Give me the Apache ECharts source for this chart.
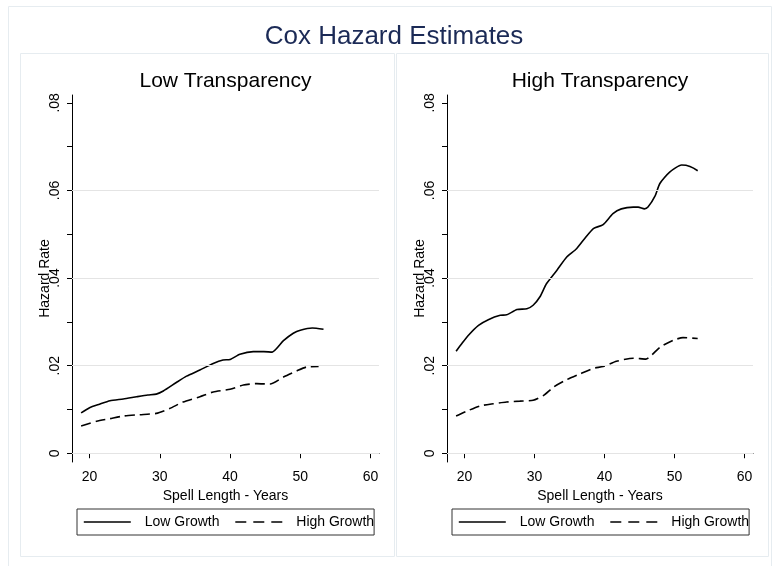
<!DOCTYPE html>
<html>
<head>
<meta charset="utf-8">
<script src="https://cdn.jsdelivr.net/npm/echarts@6/dist/echarts.min.js"></script>
<style>
html, body { margin: 0; padding: 0; background: #fff; }
#chart { width: 776px; height: 566px; }
</style>
</head>
<body>
<div id="chart"></div>
<script>
// data
const mainTitle = 'Cox Hazard Estimates';
const panelTitles = ['Low Transparency', 'High Transparency'];
const seriesNames = ['Low Growth', 'High Growth'];
const xTicks = [20, 30, 40, 50, 60];
const yTicks = [0, 0.01, 0.02, 0.03, 0.04, 0.05, 0.06, 0.07, 0.08];
const yLabels = [0, 0.02, 0.04, 0.06, 0.08];
const gridValues = [0, 0.02, 0.04, 0.06];

// [spell length, hazard rate]
const lowTransLowGrowth = [
  [18.8, 0.0092], [20, 0.0104], [21.4, 0.0112], [22.9, 0.0120], [24.8, 0.0124],
  [26.7, 0.0129], [28.3, 0.0133], [29.5, 0.0135], [30.5, 0.0142], [32.4, 0.0162],
  [33.8, 0.0176], [35.7, 0.0190], [37.6, 0.0205], [39.0, 0.0213], [40, 0.0214],
  [41.4, 0.0226], [43.3, 0.0232], [44.8, 0.0232], [46.0, 0.0231], [47.6, 0.0257],
  [49.0, 0.0274], [50, 0.0281], [51.7, 0.0286], [53.3, 0.0283]
];
const lowTransHighGrowth = [
  [18.8, 0.0062], [21, 0.0073], [22.9, 0.0079], [24.8, 0.0085], [27.1, 0.0088],
  [29.5, 0.0091], [31.4, 0.0102], [33.3, 0.0117], [35.7, 0.0129], [37.6, 0.0140],
  [40, 0.0146], [41.9, 0.0156], [43.8, 0.0159], [45.7, 0.0158], [47.6, 0.0174],
  [49.5, 0.0188], [50.9, 0.0197], [52.6, 0.0198]
];
const highTransLowGrowth = [
  [18.8, 0.0233], [19.6, 0.0250], [20.6, 0.0270], [22.0, 0.0292], [23.4, 0.0305],
  [25.1, 0.0315], [26.0, 0.0316], [27.5, 0.0328], [28.9, 0.0330], [29.8, 0.0338],
  [30.8, 0.0358], [31.7, 0.0387], [33.2, 0.0418], [34.6, 0.0448], [36.0, 0.0467],
  [37.2, 0.0491], [38.4, 0.0513], [39.8, 0.0522], [41.2, 0.0547], [42.4, 0.0558],
  [44.1, 0.0562], [44.8, 0.0562], [45.7, 0.0558], [46.2, 0.0562], [47.2, 0.0587],
  [47.9, 0.0616], [49.3, 0.0642], [51.0, 0.0658], [52.2, 0.0655], [53.3, 0.0645]
];
const highTransHighGrowth = [
  [18.8, 0.0085], [20.3, 0.0096], [22.2, 0.0108], [24.1, 0.0113], [26.0, 0.0117],
  [27.9, 0.0119], [29.8, 0.0121], [31.3, 0.0132], [32.7, 0.0151], [34.6, 0.0168],
  [36.5, 0.0181], [38.4, 0.0194], [39.8, 0.0198], [41.7, 0.0210], [44.1, 0.0217],
  [45.9, 0.0215], [47.9, 0.0242], [49.8, 0.0258], [51.2, 0.0264], [53.3, 0.0262]
];

const font = 'Liberation Sans, Arial, sans-serif';
const plots = [
  { left: 72, width: 307, legendLeft: 77, low: lowTransLowGrowth, high: lowTransHighGrowth },
  { left: 447, width: 306, legendLeft: 452, low: highTransLowGrowth, high: highTransHighGrowth }
];

function fmtRate(v) {
  if (v === 0) return '0';
  return v.toFixed(2).replace(/^0/, '');
}

const chart = echarts.init(document.getElementById('chart'), null, { renderer: 'canvas' });

const grids = [], xAxes = [], yAxes = [], series = [], legends = [];
const titles = [{
  text: mainTitle, left: 394, top: 24, textAlign: 'center', padding: 0,
  textStyle: { fontFamily: font, fontSize: 26, fontWeight: 'normal', color: '#1b2a56' }
}];

plots.forEach((p, i) => {
  grids.push({ left: p.left, width: p.width, top: 95, height: 367 });
  titles.push({
    text: panelTitles[i], left: p.left + p.width / 2, top: 71, textAlign: 'center', padding: 0,
    textStyle: { fontFamily: font, fontSize: 21, fontWeight: 'normal', color: '#000' }
  });
  xAxes.push({
    type: 'value', gridIndex: i, min: 17.5, max: 61.2,
    name: 'Spell Length - Years', nameLocation: 'middle', nameGap: 22,
    nameTextStyle: { fontFamily: font, fontSize: 14, color: '#000' },
    axisLine: { lineStyle: { color: '#000', width: 1 } },
    axisTick: { length: 5, lineStyle: { color: '#000' }, customValues: xTicks },
    axisLabel: { customValues: xTicks, margin: 8, fontFamily: font, fontSize: 14, color: '#000' },
    splitLine: { show: false }
  });
  yAxes.push({
    type: 'value', gridIndex: i, min: -0.002, max: 0.0818,
    name: 'Hazard Rate', nameLocation: 'middle', nameGap: 20, nameRotate: 90,
    nameMoveOverlap: false,
    nameTextStyle: { fontFamily: font, fontSize: 14, color: '#000' },
    axisLine: { show: true, lineStyle: { color: '#000', width: 1 } },
    axisTick: { show: true, length: 5, lineStyle: { color: '#000' }, customValues: yTicks },
    axisLabel: {
      customValues: yLabels, rotate: 90, margin: 10, fontFamily: font, fontSize: 14,
      color: '#000', formatter: fmtRate
    },
    splitLine: { show: false }
  });
  series.push({
    name: seriesNames[0], type: 'line', xAxisIndex: i, yAxisIndex: i,
    data: p.low, smooth: 0.2, symbol: 'none',
    lineStyle: { color: '#000', width: 1.6, type: 'solid' },
    itemStyle: { color: '#000' },
    markLine: {
      silent: true, symbol: ['none', 'none'], label: { show: false },
      lineStyle: { color: '#e4e4e4', width: 1.2, type: 'solid' },
      data: gridValues.map(v => ({ yAxis: v })), animation: false
    },
    animation: false
  });
  series.push({
    name: seriesNames[1], type: 'line', xAxisIndex: i, yAxisIndex: i,
    data: p.high, smooth: 0.2, symbol: 'none',
    lineStyle: { color: '#000', width: 1.6, type: [10, 5] },
    itemStyle: { color: '#000' },
    animation: false
  });
  legends.push({
    data: [
      { name: seriesNames[0] },
      { name: seriesNames[1], lineStyle: { type: [11, 7] } }
    ],
    left: p.legendLeft, top: 509, orient: 'horizontal',
    padding: [6, 0, 6, 6], itemWidth: 47, itemHeight: 14, itemGap: 15,
    borderColor: '#333', borderWidth: 1, backgroundColor: '#fff',
    selectedMode: false,
    itemStyle: { opacity: 0 },
    lineStyle: { width: 1.6 },
    textStyle: { fontFamily: font, fontSize: 14, color: '#000', padding: [0, 0, 0, 9] }
  });
});

chart.setOption({
  animation: false,
  backgroundColor: '#fff',
  graphic: [
    { type: 'rect', z: -10, shape: { x: 8.5, y: 6.5, width: 763, height: 570 },
      style: { fill: '#fff', stroke: '#e6ecf0', lineWidth: 1 } },
    { type: 'rect', z: -9, shape: { x: 20.5, y: 53.5, width: 374, height: 503 },
      style: { fill: '#fff', stroke: '#e6ecf0', lineWidth: 1 } },
    { type: 'rect', z: -9, shape: { x: 396.5, y: 53.5, width: 372, height: 503 },
      style: { fill: '#fff', stroke: '#e6ecf0', lineWidth: 1 } }
  ],
  title: titles,
  grid: grids,
  xAxis: xAxes,
  yAxis: yAxes,
  legend: legends,
  series: series
});
</script>
</body>
</html>
